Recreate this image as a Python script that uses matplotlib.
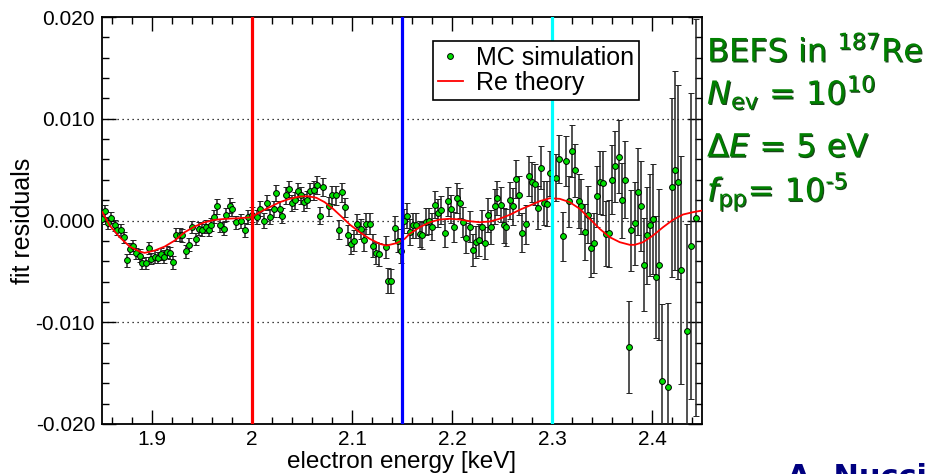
import numpy as np
import matplotlib
matplotlib.use('Agg')
import matplotlib.pyplot as plt
import matplotlib.patheffects as pe
from matplotlib.lines import Line2D
from matplotlib.ticker import MultipleLocator

plt.rcParams['font.family'] = ['Liberation Sans', 'DejaVu Sans']
plt.rcParams['mathtext.fontset'] = 'dejavusans'

# MC simulation residuals: energy [keV], residual [1e-3], error [1e-3]
energy = [
    1.8504, 1.8527, 1.8560, 1.8594, 1.8627, 1.8654, 1.8694, 1.8717, 1.8750, 1.8784,
    1.8810, 1.8844, 1.8877, 1.8904, 1.8937, 1.8967, 1.8994, 1.9027, 1.9060, 1.9087,
    1.9117, 1.9150, 1.9177, 1.9210, 1.9244, 1.9277, 1.9304, 1.9344, 1.9370, 1.9404,
    1.9437, 1.9470, 1.9504, 1.9537, 1.9567, 1.9594, 1.9620, 1.9650, 1.9684, 1.9717,
    1.9744, 1.9777, 1.9804, 1.9844, 1.9894, 1.9927, 1.9960, 2.0004, 2.0050, 2.0084,
    2.0117, 2.0150, 2.0184, 2.0217, 2.0244, 2.0277, 2.0304, 2.0337, 2.0367, 2.0400,
    2.0427, 2.0460, 2.0487, 2.0520, 2.0550, 2.0584, 2.0617, 2.0650, 2.0684, 2.0710,
    2.0767, 2.0800, 2.0837, 2.0870, 2.0900, 2.0927, 2.0960, 2.0994, 2.1020, 2.1054,
    2.1087, 2.1120, 2.1144, 2.1177, 2.1210, 2.1237, 2.1270, 2.1337, 2.1360, 2.1394,
    2.1427, 2.1460, 2.1494, 2.1517, 2.1550, 2.1584, 2.1610, 2.1644, 2.1677, 2.1704,
    2.1737, 2.1770, 2.1804, 2.1827, 2.1860, 2.1894, 2.1927, 2.1960, 2.1994, 2.2020,
    2.2050, 2.2077, 2.2110, 2.2144, 2.2177, 2.2210, 2.2237, 2.2267, 2.2300, 2.2327,
    2.2360, 2.2394, 2.2427, 2.2454, 2.2487, 2.2517, 2.2544, 2.2577, 2.2610, 2.2644,
    2.2670, 2.2704, 2.2737, 2.2767, 2.2800, 2.2827, 2.2860, 2.2894, 2.2920, 2.2954,
    2.2977, 2.3044, 2.3070, 2.3110, 2.3137, 2.3170, 2.3204, 2.3234, 2.3267, 2.3294,
    2.3327, 2.3360, 2.3387, 2.3420, 2.3450, 2.3477, 2.3510, 2.3544, 2.3570, 2.3604,
    2.3634, 2.3667, 2.3700, 2.3734, 2.3767, 2.3794, 2.3827, 2.3860, 2.3887, 2.3920,
    2.3950, 2.3984, 2.4010, 2.4044, 2.4070, 2.4104, 2.4160, 2.4200, 2.4227, 2.4260,
    2.4294, 2.4354, 2.4387, 2.4444,
]
resid = [
    0.17, 0.91, -0.27, 0.27, -0.49, -0.91, -0.98, -1.64, -3.93, -2.78,
    -2.46, -3.22, -3.44, -4.20, -4.20, -2.68, -3.77, -3.54, -3.67, -3.27,
    -3.54, -3.12, -3.18, -4.10, -1.38, -1.38, -1.47, -3.02, -2.36, -0.66,
    -1.80, -0.82, -0.91, -0.59, -0.91, -0.42, 0.39, 1.38, -0.49, -0.82,
    0.59, 1.47, 1.15, -0.17, -0.07, -0.91, 0.32, 0.59, 0.32, 1.15,
    0.00, 1.74, 0.39, 1.15, 2.68, 1.15, 0.49, 2.46, 3.12, 1.74,
    1.97, 2.88, 2.46, 1.80, 2.06, 2.88, 2.95, 3.51, 0.49, 3.27,
    1.38, 2.53, 2.46, -0.91, 2.78, 1.31, -1.41, -2.29, -1.97, -0.32,
    -0.82, -1.90, -0.32, -0.32, -2.46, -3.22, -3.34, -2.63, -5.90, -5.97,
    -0.72, -1.97, -2.95, -0.07, 0.49, -1.15, -0.49, -0.49, -1.31, -1.47,
    -0.10, -0.07, -0.59, 1.57, 0.72, 1.05, -1.21, 1.87, 1.15, -0.66,
    2.19, 1.70, -0.17, -1.70, -0.59, -2.88, -2.13, -1.90, -0.59, -2.23,
    0.56, -0.66, 1.38, 2.23, 1.57, -0.49, -0.66, 1.97, 1.38, 4.10,
    2.46, -1.21, -0.39, 4.36, 3.77, 3.54, 1.25, 5.18, 1.70, 1.64,
    4.65, 4.20, 6.07, -1.57, 5.83, 1.90, 6.81, 4.92, 1.90, 1.41,
    -1.15, 0.59, -2.68, -2.23, 2.36, 3.77, 3.67, -1.31, -1.25, 4.00,
    5.31, 6.29, 1.97, 4.00, -12.46, -0.98, -0.27, 2.85, 1.41, -4.33,
    -1.47, -0.42, 0.17, -5.51, -4.33, -15.73, -16.39, 3.27, 4.92, 3.77,
    -4.85, -10.82, -2.50, 0.27,
]
err = [
    0.55, 0.60, 0.55, 0.55, 0.55, 0.55, 0.60, 0.55, 0.60, 0.55,
    0.55, 0.55, 0.60, 0.55, 0.60, 0.60, 0.55, 0.60, 0.55, 0.60,
    0.60, 0.60, 0.60, 0.65, 0.60, 0.60, 0.60, 0.65, 0.60, 0.60,
    0.60, 0.65, 0.60, 0.65, 0.60, 0.65, 0.65, 0.70, 0.65, 0.65,
    0.65, 0.70, 0.70, 0.65, 0.70, 0.70, 0.70, 0.70, 0.70, 0.75,
    0.75, 0.75, 0.75, 0.80, 0.80, 0.80, 0.75, 0.80, 0.80, 0.80,
    0.80, 0.85, 0.80, 0.85, 0.85, 0.85, 0.90, 0.90, 0.85, 0.90,
    0.90, 0.90, 0.95, 0.95, 0.95, 0.95, 1.00, 1.00, 1.00, 1.00,
    1.00, 1.05, 1.05, 1.05, 1.10, 1.10, 1.10, 1.10, 1.20, 1.20,
    1.15, 1.15, 1.20, 1.20, 1.20, 1.25, 1.25, 1.25, 1.25, 1.30,
    1.30, 1.30, 1.30, 1.35, 1.35, 1.35, 1.40, 1.40, 1.40, 1.45,
    1.45, 1.45, 1.50, 1.50, 1.50, 1.55, 1.55, 1.60, 1.60, 1.60,
    1.65, 1.65, 1.70, 1.70, 1.75, 1.75, 1.80, 1.80, 1.85, 1.85,
    1.90, 1.90, 1.95, 2.00, 2.00, 2.05, 2.10, 2.10, 2.15, 2.20,
    2.20, 2.30, 2.35, 2.40, 2.45, 2.50, 2.55, 2.60, 2.65, 2.70,
    2.75, 2.80, 2.90, 2.95, 3.00, 3.10, 3.15, 3.20, 3.30, 3.40,
    3.50, 3.60, 3.70, 3.80, 4.50, 4.00, 4.10, 4.30, 4.40, 4.60,
    4.80, 5.00, 5.40, 6.00, 7.40, 7.50, 8.30, 8.80, 9.80, 9.50,
    11.2, 10.5, 15.0, 19.5,
]

# Re theory curve [keV], [1e-3]
theory_e = [1.8504, 1.8577, 1.8677, 1.8777, 1.8877, 1.8927, 1.9027, 1.9127, 1.9227,
            1.9327, 1.9427, 1.9527, 1.9627, 1.9744, 1.9877, 1.9994, 2.0077, 2.0177,
            2.0277, 2.0377, 2.0477, 2.0560, 2.0644, 2.0727, 2.0810, 2.0894, 2.0977,
            2.1077, 2.1177, 2.1277, 2.1344, 2.1444, 2.1527, 2.1577, 2.1677, 2.1777,
            2.1877, 2.1977, 2.2077, 2.2177, 2.2277, 2.2377, 2.2477, 2.2577, 2.2677,
            2.2777, 2.2877, 2.2977, 2.3077, 2.3177, 2.3277, 2.3377, 2.3477, 2.3577,
            2.3677, 2.3777, 2.3827, 2.3910, 2.4010, 2.4110, 2.4210, 2.4310, 2.4410,
            2.4500]
theory_r = [0.82, -0.49, -1.64, -2.56, -3.05, -3.18, -2.95, -2.56, -1.97,
            -1.15, -0.59, -0.17, 0.07, 0.17, 0.23, 0.32, 0.82, 1.31,
            1.80, 2.13, 2.36, 2.39, 2.23, 1.80, 1.15, 0.39, -0.39,
            -1.15, -1.80, -2.29, -2.46, -2.23, -1.80, -1.31, -0.66, -0.17,
            0.10, 0.17, 0.10, -0.07, -0.17, -0.10, 0.17, 0.56, 1.05,
            1.47, 1.90, 2.19, 2.13, 1.80, 1.15, 0.17, -0.82, -1.64,
            -2.13, -2.39, -2.39, -2.13, -1.47, -0.66, 0.07, 0.59, 0.82,
            0.98]

vlines = [2.0, 2.15, 2.3]
vline_colors = ['#ff0000', '#0000ff', '#00ffff']

xticks = [1.9, 2.0, 2.1, 2.2, 2.3, 2.4]
xtick_labels = ['1.9', '2', '2.1', '2.2', '2.3', '2.4']
yticks = [-0.02, -0.01, 0.0, 0.01, 0.02]
ytick_labels = ['-0.020', '-0.010', '0.000', '0.010', '0.020']

fig = plt.figure(figsize=(9.28, 4.74), dpi=100)
ax = fig.add_axes([0.1099, 0.1055, 0.6466, 0.8586])

x = np.array(energy)
y = np.array(resid) * 1e-3
e = np.array(err) * 1e-3

for yg in [-0.01, 0.0, 0.01]:
    ax.axhline(yg, color='black', lw=0.9, ls=(0, (1, 3)), zorder=1)

ax.errorbar(x, y, yerr=e, fmt='o', ms=4.2, mfc='#00e000', mec='black', mew=0.7,
            ecolor='#222222', elinewidth=1.1, capsize=2.3, capthick=1.1, zorder=3)
ax.plot(theory_e, np.array(theory_r) * 1e-3, color='#ff0000', lw=1.3, zorder=4)

for xv, c in zip(vlines, vline_colors):
    ax.axvline(xv, color=c, lw=2.3, zorder=5)

ax.set_xlim(1.85, 2.45)
ax.set_ylim(-0.02, 0.02)
ax.set_xticks(xticks)
ax.set_xticklabels(xtick_labels)
ax.set_yticks(yticks)
ax.set_yticklabels(ytick_labels)
ax.xaxis.set_minor_locator(MultipleLocator(0.02))
ax.yaxis.set_minor_locator(MultipleLocator(0.002))
ax.tick_params(which='both', direction='in', top=True, right=True, width=1.0,
               labelsize=15, color='black')
ax.tick_params(axis='x', which='major', length=10, pad=4)
ax.tick_params(axis='y', which='major', length=10, pad=5)
ax.tick_params(which='minor', length=5)
for s in ax.spines.values():
    s.set_linewidth(1.3)

ax.set_xlabel('electron energy [keV]', fontsize=17.5)
ax.xaxis.set_label_coords(0.5, -0.066)
ax.set_ylabel('fit residuals', fontsize=18)
ax.yaxis.set_label_coords(-0.112, 0.5)

handles = [Line2D([], [], ls='none', marker='o', ms=4.2, mfc='#00e000', mec='black', mew=0.7),
           Line2D([], [], color='#ff0000', lw=1.3)]
leg = ax.legend(handles, ['MC simulation', 'Re theory'], loc='upper left',
                bbox_to_anchor=(0.551, 0.942), fontsize=18, frameon=True,
                fancybox=False, framealpha=1, edgecolor='black', borderpad=0.2,
                labelspacing=0.05, handlelength=1.0, handletextpad=0.55,
                borderaxespad=0)
leg.get_frame().set_linewidth(1.2)
leg.set_zorder(6)

shadow = [pe.SimplePatchShadow(offset=(0.9, -0.9), shadow_rgbFace='#003000', alpha=0.9),
          pe.Normal()]
W, H = 928, 474
lines = [('BEFS in $^{187}$Re', 61.5),
         (r'$N_{\mathrm{ev}}$ = 10$^{10}$', 104),
         (r'$\Delta E$ = 5 eV', 156.5),
         ('$f_{\\mathrm{pp}}$= 10$^{\u2010 5}$', 201)]
for txt, yb in lines:
    fig.text(707 / W, 1 - yb / H, txt, fontsize=23, color='#008000', family='DejaVu Sans',
             va='baseline', ha='left', path_effects=shadow)

fig.text(787 / W, 1 - 486 / H, 'A. Nucciotti', fontsize=22, fontweight='bold',
         color='#000080', family='DejaVu Sans', va='baseline', ha='left')

plt.savefig('out.png', dpi=100)
